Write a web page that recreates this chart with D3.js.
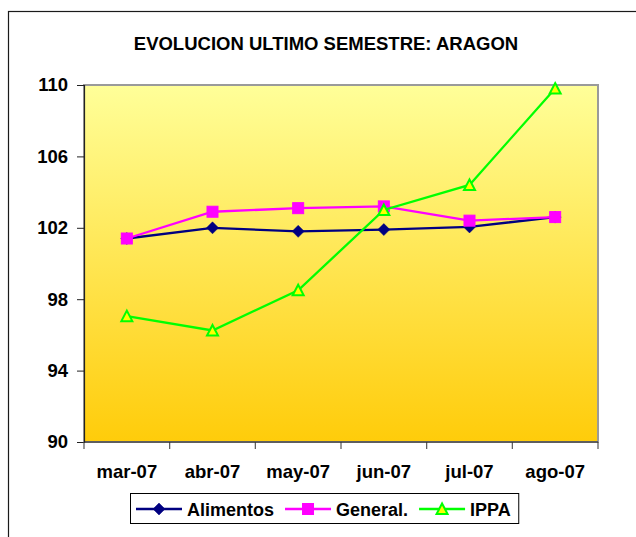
<!DOCTYPE html>
<html>
<head>
<meta charset="utf-8">
<script src="https://cdn.jsdelivr.net/npm/d3@7/dist/d3.min.js"></script>
<style>
  html, body { margin: 0; padding: 0; background: #fff; }
  svg { display: block; }
  text { font-family: "Liberation Sans", Arial, sans-serif; font-weight: bold; fill: #000; }
</style>
</head>
<body>
<svg id="chart" width="636" height="537"></svg>
<script>
// Monthly index values, March–August 2007
const categories = ["mar-07", "abr-07", "may-07", "jun-07", "jul-07", "ago-07"];
const alimentos = [101.4, 102.0, 101.8, 101.9, 102.05, 102.6];
const general = [101.4, 102.9, 103.1, 103.2, 102.4, 102.6];
const ippa = [97.05, 96.25, 98.5, 103.0, 104.4, 109.8];
const yTicks = [90, 94, 98, 102, 106, 110];
const seriesNames = ["Alimentos", "General.", "IPPA"];
const titleText = "EVOLUCION ULTIMO SEMESTRE: ARAGON";

const svg = d3.select("#chart");
const W = 636, H = 537;
const plot = { left: 84, right: 598, top: 85, bottom: 442 };

// outer chart frame (only left/top edges fall inside the view)
svg.append("rect")
  .attr("x", 8.5).attr("y", 11.5)
  .attr("width", W + 20).attr("height", H + 20)
  .attr("fill", "#fff").attr("stroke", "#1a1a1a").attr("stroke-width", 1.2);

// title
svg.append("text")
  .attr("x", 326).attr("y", 49.5)
  .attr("text-anchor", "middle")
  .style("font-size", "18.5px")
  .text(titleText);

// plot background gradient
const defs = svg.append("defs");
const grad = defs.append("linearGradient")
  .attr("id", "bg").attr("x1", 0).attr("y1", 0).attr("x2", 0).attr("y2", 1);
grad.append("stop").attr("offset", "0%").attr("stop-color", "#FFFF99");
grad.append("stop").attr("offset", "100%").attr("stop-color", "#FFCC0A");

const x = d3.scaleBand().domain(categories).range([plot.left, plot.right]).padding(0);
const y = d3.scaleLinear().domain([90, 110]).range([plot.bottom, plot.top]);

svg.append("rect")
  .attr("x", plot.left).attr("y", plot.top)
  .attr("width", plot.right - plot.left).attr("height", plot.bottom - plot.top)
  .attr("fill", "url(#bg)")
  .attr("stroke", "#9a9a9a").attr("stroke-width", 2);

// y axis
const yAxis = svg.append("g")
  .attr("transform", `translate(${plot.left},0)`)
  .call(d3.axisLeft(y).tickValues(yTicks).tickSize(7).tickPadding(9).tickFormat(d3.format("d")));
yAxis.select(".domain").attr("stroke", "#222").attr("stroke-width", 1.2);
yAxis.selectAll(".tick line").attr("stroke", "#222");
yAxis.selectAll("text").style("font-size", "18.5px").attr("fill", "#000");

// x axis: labels at band centres, tick marks at band boundaries
const xAxis = svg.append("g")
  .attr("transform", `translate(0,${plot.bottom})`)
  .call(d3.axisBottom(x).tickSize(0).tickPadding(23));
xAxis.select(".domain").remove();
xAxis.selectAll("text").style("font-size", "18.5px").attr("fill", "#000");

const bounds = categories.map(c => x(c)).concat([x.range()[1]]);
svg.append("g").selectAll("line").data(bounds).join("line")
  .attr("x1", d => d).attr("x2", d => d)
  .attr("y1", plot.bottom).attr("y2", plot.bottom + 7)
  .attr("stroke", "#555").attr("stroke-width", 1.2);
svg.append("line")
  .attr("x1", plot.left).attr("x2", plot.right)
  .attr("y1", plot.bottom).attr("y2", plot.bottom)
  .attr("stroke", "#222").attr("stroke-width", 1.2);

// series
const series = [
  { name: seriesNames[0], values: alimentos, color: "#000080", marker: "diamond" },
  { name: seriesNames[1], values: general, color: "#FF00FF", marker: "square" },
  { name: seriesNames[2], values: ippa, color: "#00FF00", marker: "triangle" }
];

function drawMarker(g, type, cx, cy, color) {
  if (type === "diamond") {
    g.append("path")
      .attr("d", `M${cx},${cy - 6}L${cx + 6},${cy}L${cx},${cy + 6}L${cx - 6},${cy}Z`)
      .attr("fill", color).attr("stroke", color).attr("stroke-width", 0.5);
  } else if (type === "square") {
    g.append("rect")
      .attr("x", cx - 5.5).attr("y", cy - 5.5).attr("width", 11).attr("height", 11)
      .attr("fill", color).attr("stroke", color).attr("stroke-width", 1);
  } else {
    g.append("path")
      .attr("d", `M${cx},${cy - 5.5}L${cx + 5.5},${cy + 5}L${cx - 5.5},${cy + 5}Z`)
      .attr("fill", "#FFFF00").attr("stroke", color).attr("stroke-width", 2)
      .attr("stroke-linejoin", "miter");
  }
}

const line = d3.line()
  .x((d, i) => x(categories[i]) + x.bandwidth() / 2)
  .y(d => y(d));

series.forEach(s => {
  const g = svg.append("g");
  g.append("path")
    .attr("d", line(s.values))
    .attr("fill", "none").attr("stroke", s.color).attr("stroke-width", 2.3);
  s.values.forEach((v, i) => {
    drawMarker(g, s.marker, x(categories[i]) + x.bandwidth() / 2, y(v), s.color);
  });
});

// legend
const legend = svg.append("g");
const legendBox = legend.append("rect")
  .attr("x", 130.5).attr("y", 493.5).attr("height", 30)
  .attr("fill", "#fff").attr("stroke", "#000").attr("stroke-width", 1);
let lx = 136;
const ly = 509;
series.forEach(s => {
  legend.append("line")
    .attr("x1", lx).attr("x2", lx + 46).attr("y1", ly).attr("y2", ly)
    .attr("stroke", s.color).attr("stroke-width", 2.3);
  drawMarker(legend, s.marker, lx + 23, ly, s.color);
  const t = legend.append("text")
    .attr("x", lx + 51).attr("y", ly + 6.5)
    .style("font-size", "18px")
    .text(s.name);
  lx = lx + 51 + t.node().getComputedTextLength() + 11;
});
legendBox.attr("width", lx - 11 + 8 - 130.5);
</script>
</body>
</html>
